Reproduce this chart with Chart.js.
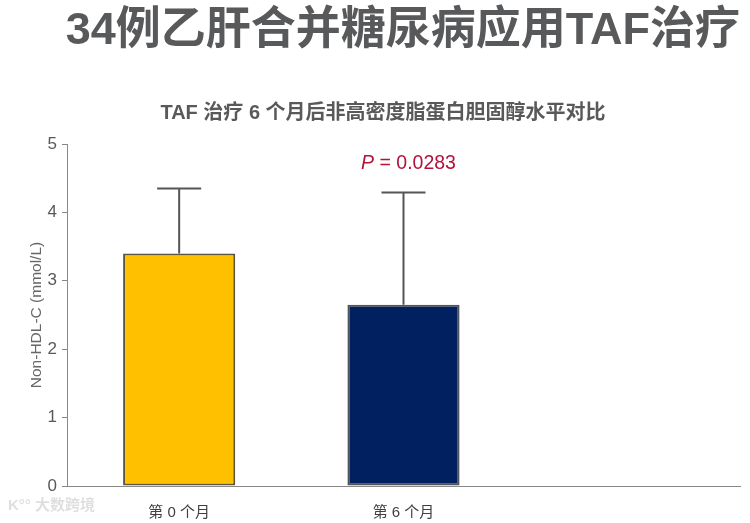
<!DOCTYPE html>
<html>
<head>
<meta charset="utf-8">
<script src="https://cdn.jsdelivr.net/npm/chart.js@4.4.1/dist/chart.umd.min.js"></script>
<style>
    html, body { margin: 0; padding: 0; background: #fff; }
    #wrap { width: 750px; height: 523px; position: relative; }
</style>
</head>
<body>
<div id="wrap"><canvas id="chartNonHdl"></canvas></div>
<script>
// Data
const categories = ['第 0 个月', '第 6 个月', ''];
const meanValues = [3.4, 2.65, null];
const sdValues = [0.95, 1.64, null];
const yTicks = [0, 1, 2, 3, 4, 5];

const mainTitle = '34例乙肝合并糖尿病应用TAF治疗';
const subTitle = 'TAF 治疗 6 个月后非高密度脂蛋白胆固醇水平对比';
const pLabel = 'P';
const pValue = ' = 0.0283';

const FONT = '"Liberation Sans", "Noto Sans CJK SC", sans-serif';

// error bars (upper only) drawn from the scale
const errorBars = {
    id: 'errorBars',
    afterDatasetsDraw(chart) {
        const ctx = chart.ctx;
        const yScale = chart.scales.y;
        const meta = chart.getDatasetMeta(0);
        ctx.save();
        ctx.strokeStyle = '#555555';
        ctx.lineWidth = 2;
        meta.data.forEach(function(bar, i) {
            if (meanValues[i] == null) return;
            const yTop = yScale.getPixelForValue(meanValues[i] + sdValues[i]);
            const yBase = yScale.getPixelForValue(meanValues[i]);
            ctx.beginPath();
            ctx.moveTo(bar.x, yBase);
            ctx.lineTo(bar.x, yTop);
            ctx.moveTo(bar.x - 22, yTop);
            ctx.lineTo(bar.x + 22, yTop);
            ctx.stroke();
        });
        ctx.restore();
    }
};

// titles, p value and watermark
const annotations = {
    id: 'annotations',
    afterDraw(chart) {
        const ctx = chart.ctx;
        const area = chart.chartArea;
        ctx.save();
        ctx.textBaseline = 'middle';

        ctx.fillStyle = '#58595b';
        ctx.font = 'bold 45px ' + FONT;
        ctx.textAlign = 'right';
        ctx.fillText(mainTitle, area.right, 32);

        ctx.fillStyle = '#595959';
        ctx.font = 'bold 20px ' + FONT;
        ctx.textAlign = 'center';
        ctx.fillText(subTitle, 383, 113);

        // P = 0.0283 centred over the second bar
        const bar = chart.getDatasetMeta(0).data[1];
        ctx.fillStyle = '#b3123c';
        ctx.font = 'italic 19.5px ' + FONT;
        const w1 = ctx.measureText(pLabel).width;
        ctx.font = '19.5px ' + FONT;
        const w2 = ctx.measureText(pValue).width;
        const x0 = bar.x + 5 - (w1 + w2) / 2;
        ctx.textAlign = 'left';
        ctx.font = 'italic 19.5px ' + FONT;
        ctx.fillText(pLabel, x0, 164);
        ctx.font = '19.5px ' + FONT;
        ctx.fillText(pValue, x0 + w1, 164);

        ctx.fillStyle = 'rgba(0, 0, 0, 0.13)';
        ctx.font = 'bold 15px ' + FONT;
        ctx.fillText('K°° 大数跨境', 8, 506);
        ctx.restore();
    }
};

new Chart(document.getElementById('chartNonHdl'), {
    type: 'bar',
    data: {
        labels: categories,
        datasets: [{
            data: meanValues,
            backgroundColor: ['#ffc000', '#002060'],
            borderColor: ['#5b5540', '#50535c'],
            borderWidth: 2,
            borderSkipped: false,
            barPercentage: 0.5,
            categoryPercentage: 1.0
        }]
    },
    options: {
        responsive: true,
        maintainAspectRatio: false,
        animation: false,
        layout: {
            padding: { top: 144, right: 10, bottom: 0, left: 0 }
        },
        plugins: {
            legend: { display: false },
            tooltip: { enabled: false }
        },
        scales: {
            x: {
                grid: { display: false },
                border: { display: true, color: '#888888', width: 1 },
                ticks: {
                    color: '#404040',
                    padding: 10,
                    font: { family: FONT, size: 15 }
                },
                afterFit(scale) { scale.height = 37; }
            },
            y: {
                min: 0,
                max: 5,
                afterBuildTicks(scale) {
                    scale.ticks = yTicks.map(v => ({ value: v }));
                },
                grid: {
                    display: true,
                    drawOnChartArea: false,
                    tickLength: 5,
                    color: '#888888'
                },
                border: { display: true, color: '#888888', width: 1 },
                ticks: {
                    color: '#595959',
                    padding: 5,
                    font: { family: FONT, size: 17 }
                },
                title: {
                    display: true,
                    text: 'Non-HDL-C (mmol/L)',
                    color: '#666666',
                    padding: { top: 27, bottom: 0 },
                    font: { family: FONT, size: 15.5 }
                },
                afterFit(scale) { scale.width = 67; }
            }
        }
    },
    plugins: [errorBars, annotations]
});
</script>
</body>
</html>
